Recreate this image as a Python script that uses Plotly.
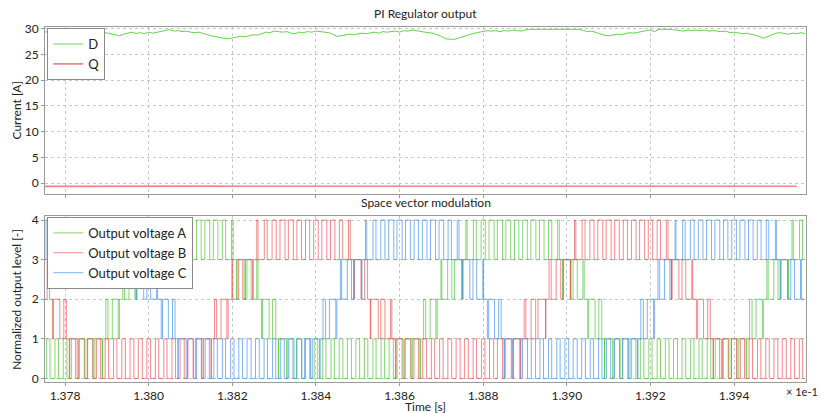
import numpy as np
import plotly.graph_objects as go
from plotly.subplots import make_subplots

# Time is shown in units of 1e-1 s
T_START = 1.3775
PWM_PERIOD = 0.0002     # one carrier period
D_STEP = 0.0001         # sampling step of the regulator output
Q_STEP = 0.0005

# PI regulator output, D axis current [A]
d_current = [
    29.3, 29.4, 29.2, 29.4, 29.3, 29.1, 29.3, 29.2, 29.4, 29.3,
    29.4, 29.2, 29.3, 29.1, 29.3, 29.1, 29.0, 28.8, 28.6, 28.9,
    29.1, 29.3, 29.0, 29.2, 29.0, 29.3, 29.1, 29.3, 29.4, 29.6,
    29.8, 29.5, 29.6, 29.4, 29.5, 29.3, 29.2, 29.3, 29.0, 28.8,
    28.6, 28.4, 28.3, 28.1, 28.0, 28.2, 28.3, 28.5, 28.4, 28.6,
    28.8, 28.7, 29.0, 29.3, 29.2, 29.5, 29.4, 29.3, 29.4, 29.1,
    29.0, 29.3, 29.2, 29.4, 29.3, 29.5, 29.4, 29.3, 29.2, 28.9,
    28.5, 28.6, 28.7, 28.9, 28.8, 29.0, 29.1, 29.0, 29.2, 29.3,
    29.1, 29.4, 29.3, 29.4, 29.5, 29.3, 29.6, 29.5, 29.7, 29.6,
    29.4, 29.3, 29.2, 29.1, 28.8, 28.5, 28.0, 27.9, 27.9, 28.1,
    28.4, 28.6, 28.9, 29.1, 29.3, 29.5, 29.6, 29.5, 29.6, 29.4,
    29.6, 29.5, 29.7, 29.6, 29.5, 29.7, 29.85, 29.85, 29.85, 29.85,
    29.85, 29.85, 29.85, 29.85, 29.85, 29.85, 29.85, 29.85, 29.85, 29.6,
    29.4, 29.5, 29.2, 29.0, 28.7, 28.6, 28.7, 28.9, 28.8, 29.0,
    29.2, 29.1, 29.3, 29.4, 29.6, 29.7, 29.4, 29.85, 29.85, 29.85,
    29.85, 29.7, 29.6, 29.5, 29.7, 29.6, 29.7, 29.6, 29.7, 29.5,
    29.6, 29.5, 29.4, 29.5, 29.2, 29.3, 29.1, 29.0, 29.1, 28.9,
    28.8, 28.5, 28.1, 28.4, 28.7, 29.1, 29.2, 29.0, 28.9, 29.1,
    29.0, 29.2, 29.0,
]

# PI regulator output, Q axis current [A]
q_current = [
    -0.62, -0.60, -0.61, -0.59, -0.60, -0.62, -0.61, -0.60, -0.58, -0.60,
    -0.61, -0.60, -0.62, -0.60, -0.59, -0.60, -0.61, -0.60, -0.58, -0.57,
    -0.59, -0.60, -0.61, -0.60, -0.59, -0.61, -0.60, -0.60, -0.62, -0.61,
    -0.60, -0.59, -0.60, -0.61, -0.60, -0.60, -0.61,
]

# Mean output level of each phase within every carrier period
ref_a = [
    0.40, 0.42, 0.45, 0.50, 0.60, 0.72, 0.88,
    1.25, 1.70, 2.20, 2.70,
    3.15, 3.35, 3.50, 3.60, 3.62, 3.58, 3.52, 3.55, 3.60, 3.55, 3.40, 3.20,
    2.85, 2.50, 2.15, 1.80, 1.40,
    0.95, 0.75, 0.60, 0.50, 0.42, 0.38, 0.40, 0.45, 0.48, 0.45, 0.40, 0.38,
    0.42, 0.50, 0.60, 0.72, 0.88,
    1.25, 1.70, 2.10, 2.50, 2.85,
    3.15, 3.35, 3.50, 3.60, 3.62, 3.58, 3.52, 3.55, 3.60, 3.55, 3.40, 3.20,
    2.85, 2.50, 2.15, 1.75, 1.35,
    0.95, 0.75, 0.60, 0.50, 0.42, 0.38, 0.40, 0.45, 0.48, 0.45, 0.40, 0.38,
    0.42, 0.50, 0.60, 0.72, 0.88,
    1.30, 1.75, 2.15, 2.50, 2.85,
    3.15, 3.35,
]
ref_b = [
    2.30, 1.75, 1.30,
    0.90, 0.75, 0.60, 0.50, 0.42, 0.40, 0.42, 0.46, 0.48, 0.44, 0.40, 0.38,
    0.42, 0.50, 0.62, 0.75, 0.90,
    1.25, 1.70, 2.10, 2.50, 2.85,
    3.15, 3.35, 3.50, 3.60, 3.60, 3.55, 3.50, 3.55, 3.60, 3.52, 3.40, 3.20,
    2.80, 2.35, 1.90, 1.50, 1.15,
    0.85, 0.70, 0.55, 0.45, 0.40, 0.42, 0.46, 0.48, 0.44, 0.40, 0.42, 0.50,
    0.60, 0.72, 0.88,
    1.20, 1.55, 1.90, 2.25, 2.55, 2.85,
    3.15, 3.35, 3.50, 3.60, 3.60, 3.55, 3.50, 3.55, 3.60, 3.52, 3.40, 3.20,
    2.80, 2.45, 2.10, 1.70, 1.30,
    0.95, 0.75, 0.60, 0.50, 0.42, 0.40, 0.42, 0.46, 0.48, 0.44, 0.40,
]
ref_c = [
    3.55, 3.60, 3.58, 3.52, 3.55, 3.60, 3.55, 3.45, 3.35, 3.20, 3.10,
    2.80, 2.45, 2.10, 1.70, 1.30,
    0.95, 0.75, 0.60, 0.50, 0.42, 0.38, 0.40, 0.45, 0.48, 0.45, 0.40, 0.38,
    0.42, 0.50, 0.60, 0.72, 0.88,
    1.30, 1.75, 2.15, 2.50, 2.85,
    3.15, 3.35, 3.50, 3.60, 3.62, 3.58, 3.52, 3.55, 3.60, 3.55, 3.40, 3.20,
    2.80, 2.45, 2.10, 1.70, 1.30,
    0.95, 0.75, 0.60, 0.50, 0.42, 0.38, 0.40, 0.45, 0.48, 0.45, 0.40, 0.40,
    0.50, 0.60, 0.72, 0.88,
    1.30, 1.75, 2.20, 2.65,
    3.10, 3.30, 3.45, 3.55, 3.60, 3.58, 3.52, 3.55, 3.60, 3.55, 3.45, 3.30, 3.12,
    2.80, 2.45, 2.10,
]

x_tick_vals = [1.378, 1.380, 1.382, 1.384, 1.386, 1.388, 1.390, 1.392, 1.394]
x_tick_text = ["1.378", "1.380", "1.382", "1.384", "1.386", "1.388", "1.390", "1.392", "1.394"]
cur_ticks = [0, 5, 10, 15, 20, 25, 30]
lvl_ticks = [0, 1, 2, 3, 4]


def pwm_steps(levels):
    """Centre-aligned pulse train between adjacent levels for each carrier period."""
    xs, ys = [], []
    for k, v in enumerate(levels):
        t0 = T_START + k * PWM_PERIOD
        low = min(int(np.floor(v)), 3)
        duty = v - low
        xs += [t0, t0 + PWM_PERIOD * (1 - duty) / 2, t0 + PWM_PERIOD * (1 + duty) / 2]
        ys += [low, low + 1, low]
    xs.append(T_START + len(levels) * PWM_PERIOD)
    ys.append(ys[-1])
    return xs, ys


FONT = "Lato"
TXT = "#222222"

fig = make_subplots(rows=2, cols=1, shared_xaxes=True, vertical_spacing=0.06)

t_d = T_START + D_STEP * np.arange(len(d_current))
t_q = T_START + Q_STEP * np.arange(len(q_current))
fig.add_trace(go.Scatter(x=t_d, y=d_current, mode="lines", name="D",
                         line=dict(color="rgba(60,200,30,0.8)", width=1),
                         legend="legend"), row=1, col=1)
fig.add_trace(go.Scatter(x=t_q, y=q_current, mode="lines", name="Q",
                         line=dict(color="rgba(240,80,80,0.7)", width=1.6),
                         legend="legend"), row=1, col=1)

for name, ref, col in [
    ("Output voltage A", ref_a, "rgba(50,190,20,0.6)"),
    ("Output voltage B", ref_b, "rgba(235,40,40,0.55)"),
    ("Output voltage C", ref_c, "rgba(40,130,235,0.6)"),
]:
    xs, ys = pwm_steps(ref)
    fig.add_trace(go.Scatter(x=xs, y=ys, mode="lines", name=name, line_shape="hv",
                             line=dict(color=col, width=1), legend="legend2"),
                  row=2, col=1)

axis_common = dict(showline=True, mirror=True, linecolor="#9a9a9a", linewidth=1,
                   showgrid=True, gridcolor="#c8c8c8", griddash="dot", gridwidth=1,
                   zeroline=False, ticks="outside", ticklen=3, tickcolor="#9a9a9a",
                   automargin=False,
                   tickfont=dict(family=FONT, size=12, color=TXT))

x_range = [1.37752, 1.39572]
fig.update_xaxes(**axis_common, range=x_range, tickvals=x_tick_vals, ticktext=x_tick_text)
fig.update_xaxes(showticklabels=False, row=1, col=1)

fig.update_yaxes(**axis_common)
fig.update_yaxes(range=[-2.1, 30.3], tickvals=cur_ticks, row=1, col=1)
fig.update_yaxes(range=[-0.09, 4.11], tickvals=lvl_ticks, row=2, col=1)

title_font = dict(family=FONT, size=12, color=TXT)
fig.update_layout(
    width=821, height=413,
    margin=dict(l=45, r=15, t=27, b=31),
    paper_bgcolor="white", plot_bgcolor="white",
    font=dict(family=FONT, size=12, color=TXT),
    yaxis=dict(domain=[0.5296, 1.0]),
    yaxis2=dict(domain=[0.0, 0.4685]),
    legend=dict(x=0.003, y=0.997, xanchor="left", yanchor="top",
                bgcolor="white", bordercolor="#8a8a8a", borderwidth=1,
                font=dict(family=FONT, size=13, color=TXT), itemwidth=30,
                tracegroupgap=0),
    legend2=dict(x=0.003, y=0.465, xanchor="left", yanchor="top",
                 bgcolor="white", bordercolor="#8a8a8a", borderwidth=1,
                 font=dict(family=FONT, size=13, color=TXT), itemwidth=30,
                 tracegroupgap=0),
    showlegend=True,
    annotations=[
        dict(text="PI Regulator output", xref="paper", yref="paper", x=0.5, y=1.0,
             xanchor="center", yanchor="bottom", yshift=4, showarrow=False, font=title_font),
        dict(text="Space vector modulation", xref="paper", yref="paper", x=0.5, y=0.4685,
             xanchor="center", yanchor="bottom", yshift=4, showarrow=False, font=title_font),
        dict(text="Time [s]", xref="paper", yref="paper", x=0.5, y=-0.0704,
             xanchor="center", yanchor="middle", showarrow=False, font=title_font),
        dict(text="Current [A]", xref="paper", yref="paper", x=-0.0368, y=0.7648,
             xanchor="center", yanchor="middle", textangle=-90, showarrow=False, font=title_font),
        dict(text="Normalized output level [-]", xref="paper", yref="paper", x=-0.0368, y=0.2342,
             xanchor="center", yanchor="middle", textangle=-90, showarrow=False, font=title_font),
        dict(text="× 1e-1", xref="paper", yref="paper", x=1.0184, y=-0.028,
             xanchor="right", yanchor="middle", showarrow=False,
             font=dict(family=FONT, size=11, color=TXT)),
    ],
)

fig.write_html("out.html")
